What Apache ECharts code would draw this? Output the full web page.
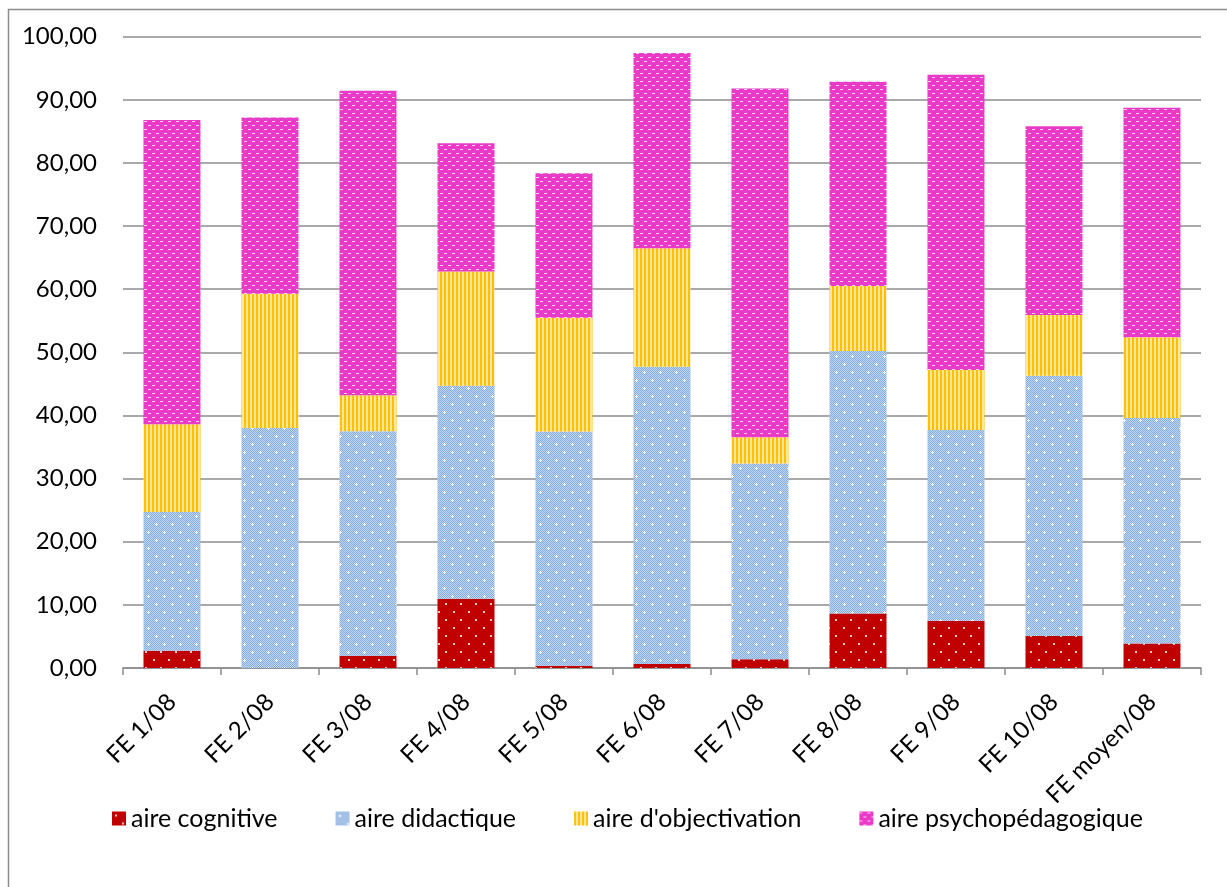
<!DOCTYPE html>
<html>
<head>
<meta charset="utf-8">
<script src="https://cdn.jsdelivr.net/npm/echarts@6/dist/echarts.min.js"></script>
<style>
html,body{margin:0;padding:0;background:#fff;}
#chart{width:1227px;height:887px;}
</style>
</head>
<body>
<div id="chart"></div>
<script>
const categories = ['FE 1/08','FE 2/08','FE 3/08','FE 4/08','FE 5/08','FE 6/08','FE 7/08','FE 8/08','FE 9/08','FE 10/08','FE moyen/08'];
const seriesNames = ['aire cognitive','aire didactique',"aire d'objectivation",'aire psychopédagogique'];
const cognitive = [2.74, 0, 1.95, 10.95, 0.37, 0.63, 1.37, 8.63, 7.47, 5.05, 3.89];
const didactique = [21.96, 38.0, 35.55, 33.75, 37.08, 47.07, 31.03, 41.57, 30.23, 41.25, 35.71];
const objectivation = [13.9, 21.3, 5.7, 18.1, 18.05, 18.8, 4.15, 10.3, 9.5, 9.6, 12.8];
const psychopedagogique = [48.2, 27.9, 48.23, 20.32, 22.86, 30.9, 55.25, 32.36, 46.77, 29.9, 36.33];
const yTicks = [0,10,20,30,40,50,60,70,80,90,100];

function tile(w, h, draw) {
  const c = document.createElement('canvas');
  c.width = w; c.height = h;
  const ctx = c.getContext('2d');
  draw(ctx);
  return { image: c, repeat: 'repeat' };
}
const redPat = tile(15, 16, ctx => {
  ctx.fillStyle = '#C00000'; ctx.fillRect(0,0,15,16);
  ctx.fillStyle = '#F4C8C8';
  ctx.fillRect(3,3,2,2); ctx.fillRect(10,11,2,2);
});
const bluePat = tile(16, 16, ctx => {
  for (let y=0;y<16;y++) for (let x=0;x<16;x++) {
    ctx.fillStyle = ((x+y)%2===0) ? '#86AEE0' : '#C0D5F0';
    ctx.fillRect(x,y,1,1);
  }
  ctx.fillStyle = '#FFFFFF';
  [[4,4],[12,12]].forEach(p => {
    ctx.fillRect(p[0]-1,p[1],3,1); ctx.fillRect(p[0],p[1]-1,1,3);
  });
});
const orangePat = tile(4, 4, ctx => {
  ctx.fillStyle = '#FFE7A0'; ctx.fillRect(0,0,4,4);
  ctx.fillStyle = '#FFC000'; ctx.fillRect(0,0,2,4);
});
const pinkPat = tile(8, 8, ctx => {
  ctx.fillStyle = '#E93BC8'; ctx.fillRect(0,0,8,8);
  ctx.fillStyle = '#FAD0F0';
  ctx.fillRect(0,1,3,1); ctx.fillRect(4,5,3,1);
});

const FONT = 'Lato';
const chart = echarts.init(document.getElementById('chart'), null, {renderer:'canvas'});
const mk = (name, data, color) => ({
  name, type: 'bar', stack: 'total', data, barWidth: 57,
  itemStyle: { color }, emphasis: { disabled: true }
});
chart.setOption({
  animation: false,
  backgroundColor: '#fff',
  textStyle: { fontFamily: FONT },
  graphic: [{
    type: 'rect', left: 6, top: 7, z: -1,
    shape: { width: 1240, height: 900 },
    style: { fill: 'none', stroke: '#8C8C8C', lineWidth: 1.5 }
  }],
  grid: { left: 123, right: 26, top: 36.7, bottom: 219, containLabel: false },
  legend: {
    left: 107, top: 801,
    itemWidth: 14, itemHeight: 14, itemGap: 58,
    icon: 'rect',
    textStyle: { fontFamily: FONT, fontSize: 25, color: '#000' },
    data: seriesNames
  },
  xAxis: {
    type: 'category', data: categories,
    axisLine: { lineStyle: { color: '#8C8C8C', width: 1.5 } },
    axisTick: { show: true, alignWithLabel: false, length: 7, lineStyle: { color: '#8C8C8C', width: 1.5 } },
    axisLabel: { rotate: 45, fontFamily: FONT, fontSize: 24, color: '#000', margin: 30, interval: 0 }
  },
  yAxis: {
    type: 'value', min: yTicks[0], max: yTicks[yTicks.length-1], interval: 10,
    axisLine: { show: false }, axisTick: { show: false },
    splitLine: { lineStyle: { color: '#8C8C8C', width: 1.5 } },
    axisLabel: {
      fontFamily: FONT, fontSize: 24, color: '#000', margin: 26,
      formatter: v => v.toFixed(2).replace('.', ',')
    }
  },
  series: [
    mk(seriesNames[0], cognitive, redPat),
    mk(seriesNames[1], didactique, bluePat),
    mk(seriesNames[2], objectivation, orangePat),
    mk(seriesNames[3], psychopedagogique, pinkPat)
  ]
});
</script>
</body>
</html>
